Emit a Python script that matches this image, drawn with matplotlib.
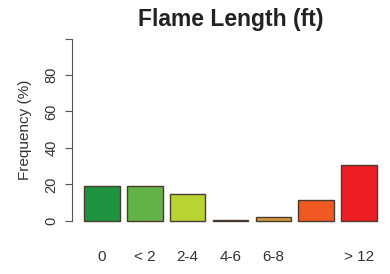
import numpy as np
import matplotlib.pyplot as plt

plt.rcParams['font.family'] = ['Liberation Sans', 'DejaVu Sans']

# flame length classes and frequency (%)
classes = ["0", "< 2", "2-4", "4-6", "6-8", "8-12", "> 12"]
shown_labels = ["0", "< 2", "2-4", "4-6", "6-8", "", "> 12"]
freq = [19.3, 19.3, 14.8, 0.4, 2.0, 11.7, 30.8]
colors = ["#1f9440", "#62b345", "#b8d432", "#e0c030", "#d29a3c", "#f05a22", "#ee1d24"]
yticks = [0, 20, 40, 60, 80, 100]
yticklabels = ["0", "20", "40", "60", "80", ""]

fig = plt.figure(figsize=(3.9, 2.74), dpi=100)
ax = fig.add_axes([0.185, 0.167, 0.812, 0.719])

# R-style barplot: width 1, space 0.2
x = 0.7 + 1.2 * np.arange(len(classes))
ax.bar(x, freq, width=1.0, color=colors, edgecolor="#4a3a32", linewidth=1.0)

ax.set_xlim(-0.128, 8.728)
ax.set_ylim(-4, 104)

for s in ["top", "right", "bottom"]:
    ax.spines[s].set_visible(False)
ax.spines["left"].set_bounds(0, 100)
ax.spines["left"].set_color("#555555")

ax.set_yticks(yticks)
ax.set_yticklabels(yticklabels, rotation=90, va="center", fontsize=10.5, color="#333333")
ax.tick_params(axis="y", length=5, color="#555555", pad=5)

ax.set_xticks(x)
ax.set_xticklabels(shown_labels, fontsize=11, color="#333333")
ax.tick_params(axis="x", length=0, pad=16)

ax.set_ylabel("Frequency (%)", fontsize=11, color="#333333", labelpad=9)
ax.set_title("Flame Length (ft)", fontsize=16.5, fontweight="bold", color="#222222", pad=4)

fig.savefig("out.png", dpi=100)
